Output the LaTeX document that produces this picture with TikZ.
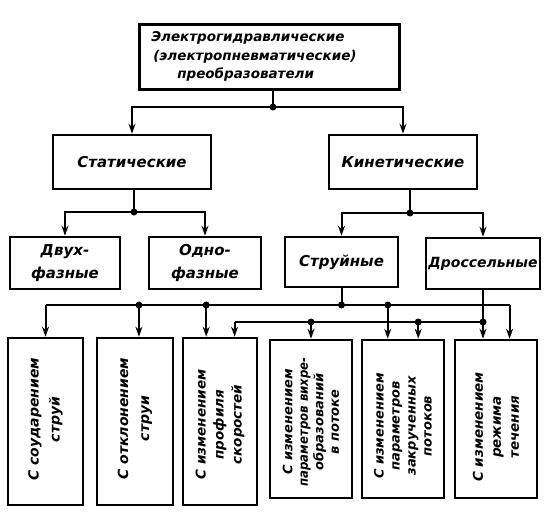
\documentclass[tikz,border=0pt]{standalone}
\usepackage{fontspec}
\setmainfont{DejaVu Sans}
\newfontfamily\gost{DejaVu Sans}
\usetikzlibrary{arrows.meta,calc}
\begin{document}
\begin{tikzpicture}[x=1pt,y=-1pt,
 box/.style={draw, line width=2.6pt, inner sep=0pt},
 lbl/.style={font=\gost\bfseries\itshape\fontsize{15}{23}\selectfont, align=center},
 vlbl/.style={rotate=90, font=\gost\bfseries\itshape\fontsize{14}{19}\selectfont, align=center, inner sep=0pt},
 conn/.style={line width=2pt},
 arr/.style={conn, -{Stealth[length=10pt,width=7pt]}},
 dot/.style={circle, fill, inner sep=0pt, minimum size=7pt}]
\useasboundingbox (0,0) rectangle (554,516);
\fill[white] (0,0) rectangle (554,516);
% top
\node[box, text width=236pt, inner xsep=12pt, minimum height=65pt, align=left,
  font=\gost\bfseries\itshape\fontsize{13.5}{18.5}\selectfont, anchor=north west] (top) at (138,23)
  {Электрогидравлические\\\hspace*{2pt}(электропневматические)\\\hspace*{26pt}преобразователи};
% level 2
\node[box, lbl, minimum width=158pt, minimum height=54pt] (stat) at (132,162) {Статические};
\node[box, lbl, minimum width=148pt, minimum height=54pt] (kin) at (403,162) {Кинетические};
% level 3
\node[box, lbl, minimum width=110pt, minimum height=52pt] (dvuh) at (65,263) {Двух-\\фазные};
\node[box, lbl, minimum width=112pt, minimum height=52pt] (odno) at (205,263) {Одно-\\фазные};
\node[box, lbl, minimum width=113pt, minimum height=50pt] (strui) at (341.5,262) {Струйные};
\node[box, lbl, minimum width=114pt, minimum height=51pt, font=\gost\bfseries\itshape\fontsize{14}{20}\selectfont] (dross) at (483,263.5) {Дроссельные};
% level 4
\node[box, minimum width=75pt, minimum height=167pt] (b1) at (45.5,421.5) {};
\node[box, minimum width=76pt, minimum height=167pt] (b2) at (135,421.5) {};
\node[box, minimum width=74pt, minimum height=167pt] (b3) at (220,421.5) {};
\node[box, minimum width=82pt, minimum height=158pt] (b4) at (311,419) {};
\node[box, minimum width=82pt, minimum height=158pt] (b5) at (403,419) {};
\node[box, minimum width=82pt, minimum height=158pt] (b6) at (496,419) {};
\node[vlbl, font=\gost\bfseries\itshape\fontsize{14}{21}\selectfont] (t1) at ($(b1.center)+(0,-2)$) {С соударением\\струй};
\node[vlbl, font=\gost\bfseries\itshape\fontsize{14}{21}\selectfont] (t2) at ($(b2.center)+(0,-3)$) {С отклонением\\струи};
\node[vlbl, font=\gost\bfseries\itshape\fontsize{13.5}{18}\selectfont] (t3) at ($(b3.center)+(0,3)$) {С изменением\\профиля\\скоростей};
\node[vlbl, font=\gost\bfseries\itshape\fontsize{13}{15.5}\selectfont] (t4) at ($(b4.center)+(0,3)$) {С изменением\\\scalebox{0.9}[1]{параметров вихре-}\\образований\\в потоке};
\node[vlbl, font=\gost\bfseries\itshape\fontsize{13}{16}\selectfont] (t5) at ($(b5.center)+(0,7)$) {С изменением\\параметров\\закрученных\\потоков};
\node[vlbl, font=\gost\bfseries\itshape\fontsize{13.5}{18}\selectfont] (t6) at ($(b6.center)+(0,8)$) {С изменением\\режима\\течения};
% connectors top -> level 2
\coordinate (j0) at (273,107);
\draw[conn] (j0 |- top.south) -- (j0);
\draw[arr] (j0) -| (stat.north);
\draw[arr] (j0) -| (kin.north);
\node[dot] (d0) at (j0) {};
% static
\coordinate (j1) at (134,212);
\draw[conn] (j1 |- stat.south) -- (j1);
\draw[arr] (j1) -| (dvuh.north);
\draw[arr] (j1) -| (odno.north);
\node[dot] (d1) at (j1) {};
% kinetic
\coordinate (j2) at (410,213);
\draw[conn] (j2 |- kin.south) -- (j2);
\draw[arr] (j2) -| (strui.north);
\draw[arr] (j2) -| (dross.north);
\node[dot] (d2) at (j2) {};
% entry points on bottom boxes
\coordinate (e1) at (b1.north);
\coordinate (e2) at ($(b2.north west)!0.55!(b2.north east)$);
\coordinate (e3a) at ($(b3.north west)!0.32!(b3.north east)$);
\coordinate (e3b) at ($(b3.north west)!0.69!(b3.north east)$);
\coordinate (e4) at (b4.north);
\coordinate (e5a) at ($(b5.north west)!0.32!(b5.north east)$);
\coordinate (e5b) at ($(b5.north west)!0.68!(b5.north east)$);
\coordinate (e6a) at (dross.south |- b6.north);
\coordinate (e6b) at ($(b6.north west)!0.66!(b6.north east)$);
\coordinate (up) at (0,305);
\coordinate (lo) at (0,322);
% jet-type bus
\draw[conn] (e1 |- up) -- (e6b |- up);
\draw[conn] (strui.south) -- (strui.south |- up);
\foreach \e in {e1,e2,e3a,e5a,e6b} \draw[arr] (\e |- up) -- (\e);
\foreach \e in {e2,e3a,e5a} \node[dot] at (\e |- up) {};
\node[dot] (d3) at (strui.south |- up) {};
% throttle bus
\draw[conn] (e3b |- lo) -- (dross.south |- lo);
\draw[conn] (dross.south) -- (dross.south |- lo);
\foreach \e in {e3b,e4,e5b,e6a} \draw[arr] (\e |- lo) -- (\e);
\foreach \e in {e4,e5b} \node[dot] at (\e |- lo) {};
\node[dot] (d4) at (dross.south |- lo) {};
\end{tikzpicture}
\end{document}
